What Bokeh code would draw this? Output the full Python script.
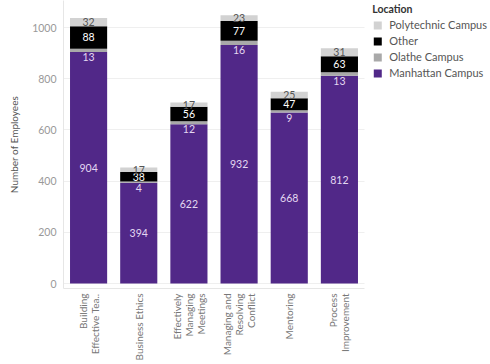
import numpy as np
from bokeh.plotting import figure
from bokeh.models import ColumnDataSource, Range1d, FixedTicker, Legend, LegendItem
from bokeh.core.properties import value
from bokeh.embed import file_html
from bokeh.resources import INLINE

categories = ["Building Effective Tea..", "Business Ethics", "Effectively Managing Meetings",
              "Managing and Resolving Conflict", "Mentoring", "Process Improvement"]
tick_labels = [["Building", "Effective Tea.."], ["Business Ethics"], ["Effectively", "Managing", "Meetings"],
               ["Managing and", "Resolving", "Conflict"], ["Mentoring"], ["Process", "Improvement"]]
manhattan = [904, 394, 622, 932, 668, 812]
olathe = [13, 4, 12, 16, 9, 13]
other = [88, 38, 56, 77, 47, 63]
polytechnic = [32, 17, 17, 23, 25, 31]
series = ["Manhattan Campus", "Olathe Campus", "Other", "Polytechnic Campus"]
colors = ["#512888", "#a9a9a9", "#000000", "#d2d2d2"]
y_ticks = [0, 200, 400, 600, 800, 1000]

FONT = "Lato"
W, H = 490, 364
LEFT, TOP, BOTTOM = 63, 0, 76
PLOT_W = 301          # width of the bar area in px
Y0, Y1 = -19.5, 1105.5

n_cat = len(categories)
xpos = [i + 0.5 for i in range(n_cat)]  # band centres of the category slots
band_px = PLOT_W / n_cat
x_end = (W - LEFT) / band_px              # frame extends under the legend

data = {"cat": categories, "x": xpos, "Manhattan Campus": manhattan, "Olathe Campus": olathe,
        "Other": other, "Polytechnic Campus": polytechnic}
src = ColumnDataSource(data)

p = figure(x_range=Range1d(0, x_end), y_range=Range1d(Y0, Y1),
           width=W, height=H, output_backend="svg", toolbar_location=None,
           min_border_left=LEFT, min_border_right=0, min_border_top=TOP, min_border_bottom=BOTTOM)
p.outline_line_color = None
p.background_fill_color = "white"

rs = p.vbar_stack(series, x="x", width=0.74, color=colors, source=src, line_color=None)

# value labels
m = np.array(manhattan); o = np.array(olathe); ot = np.array(other); pt = np.array(polytechnic)
lab = ColumnDataSource(dict(
    x=xpos,
    m_y=m / 2, m_t=[str(v) for v in manhattan],
    o_y=m, o_t=[str(v) for v in olathe],
    ot_y=m + o + ot / 2, ot_t=[str(v) for v in other],
    p_y=m + o + ot + pt / 2, p_t=[str(v) for v in polytechnic],
))
common = dict(text_font=value(FONT), text_font_size="10.5px", text_align="center")
p.text(x="x", y="m_y", text="m_t", source=lab, text_color="#e4d8f2", text_baseline="middle", **common)
p.text(x="x", y="o_y", text="o_t", source=lab, text_color="#e4d8f2", text_baseline="top", y_offset=1, **common)
p.text(x="x", y="ot_y", text="ot_t", source=lab, text_color="#ffffff", text_baseline="middle", **common)
p.text(x="x", y="p_y", text="p_t", source=lab, text_color="#555555", text_baseline="middle", **common)

# y axis
yax = p.yaxis[0]
yax.ticker = FixedTicker(ticks=y_ticks)
yax.axis_label = "Number of Employees"
yax.axis_label_text_font = FONT
yax.axis_label_text_font_style = "normal"
yax.axis_label_text_font_size = "10px"
yax.axis_label_text_color = "#555555"
yax.axis_label_standoff = 9
yax.major_label_text_font = FONT
yax.major_label_text_font_size = "10.5px"
yax.major_label_text_color = "#999999"
yax.major_tick_line_color = None
yax.minor_tick_line_color = None
yax.major_tick_out = 0
yax.major_tick_in = 0
yax.major_label_standoff = 7
yax.axis_line_color = "#e6e6e6"

# x axis: multi-line rotated category labels, one tick per line
PITCH = 12 / band_px
tick_pos, overrides = [], {}
for i, lines in enumerate(tick_labels):
    n = len(lines)
    for j, t in enumerate(lines):
        pos = round(xpos[i] + (j - (n - 1) / 2) * PITCH, 6)
        tick_pos.append(pos)
        overrides[pos] = t
xax = p.xaxis[0]
xax.ticker = FixedTicker(ticks=tick_pos)
xax.major_label_overrides = overrides
xax.major_label_orientation = np.pi / 2
xax.major_label_text_font = FONT
xax.major_label_text_font_size = "10px"
xax.major_label_text_color = "#777777"
xax.major_label_standoff = 5
xax.major_tick_line_color = None
xax.minor_tick_line_color = None
xax.major_tick_out = 0
xax.major_tick_in = 0
xax.axis_line_color = "#e6e6e6"
xax.bounds = (0, n_cat)

p.xgrid.grid_line_color = None
p.ygrid.grid_line_color = "#efefef"
try:
    p.ygrid.cross_bounds = (0, n_cat)
except Exception:
    pass

items = [LegendItem(label=s, renderers=[r]) for s, r in zip(series, rs)][::-1]
legend = Legend(items=items, location="top_right", title="Location",
                title_text_font=FONT, title_text_font_style="bold", title_text_font_size="10.5px",
                title_text_color="#333333", title_standoff=3,
                label_text_font=FONT, label_text_font_size="11px", label_text_color="#555555",
                glyph_width=10, glyph_height=10, label_height=10, label_width=96,
                spacing=3, padding=2, margin=3,
                label_standoff=7, border_line_color=None, background_fill_alpha=0)
p.add_layout(legend)

open("out.html", "w").write(file_html(p, INLINE))
